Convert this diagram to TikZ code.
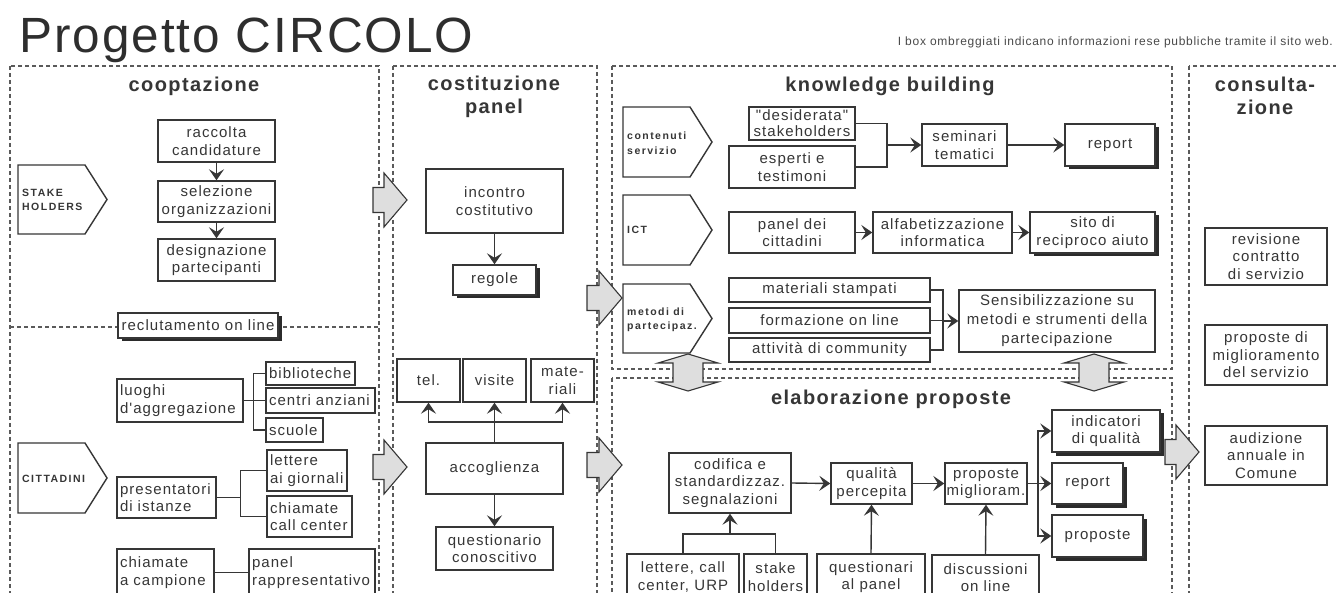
\documentclass[tikz,border=0pt]{standalone}
\usepackage{fontspec}
\setmainfont{Liberation Sans}
\newfontfamily\boxfont[LetterSpace=7]{Liberation Sans}
\newfontfamily\headfont[LetterSpace=7]{Liberation Sans}
\newfontfamily\tagfont[LetterSpace=14]{Liberation Sans}
\newfontfamily\titlefont[LetterSpace=4]{Liberation Sans}
\newfontfamily\notefont[LetterSpace=6]{Liberation Sans}
\usetikzlibrary{arrows.meta,shadows}
\definecolor{ink}{HTML}{363636}
\definecolor{frame}{HTML}{5A5A5A}
\definecolor{blockfill}{HTML}{DEDEDE}

\tikzset{
  box/.style={draw=ink, line width=1.4pt, fill=white, text=ink,
    font=\boxfont\fontsize{15}{17.5}\selectfont, align=center, inner sep=0pt},
  lbox/.style={box, align=left, inner xsep=3pt},
  sbox/.style={box, drop shadow={shadow xshift=3.5pt, shadow yshift=-3.5pt,
    opacity=1, fill=ink!80!black}},
  con/.style={draw=ink, line width=1.4pt},
  arr/.style={con, -{Stealth[length=11pt,width=15pt,inset=4.5pt]}},
  panel/.style={draw=frame, line width=1.1pt, dash pattern=on 4pt off 3pt},
  tag/.style={draw=ink, line width=1.4pt, fill=white},
  taglabel/.style={text=ink, font=\tagfont\bfseries\fontsize{10.5}{14.5}\selectfont,
    align=left, anchor=west, inner sep=0pt},
  head/.style={text=ink, font=\headfont\bfseries\fontsize{20}{23}\selectfont,
    align=center, inner sep=0pt},
  garrow/.style={draw=ink, line width=1.1pt, fill=blockfill},
}

% box given by its corners: \bx[style]{name}{x1}{y1}{x2}{y2}{text}
\newcommand\bx[7][box]{\node[#1, minimum width={#5-#3}, minimum height={#6-#4}]
  (#2) at ({(#3+#5)/2},{(#4+#6)/2}) {#7};}
% wide grey arrow pointing right: tail x, tip x, centre y
\newcommand\garrowR[3]{\draw[garrow] (#1,#3-12.5) -- (#2-23,#3-12.5) -- (#2-23,#3-27)
  -- (#2,#3) -- (#2-23,#3+27) -- (#2-23,#3+12.5) -- (#1,#3+12.5) -- cycle;}
% wide grey two-headed vertical arrow: centre x, top tip y, bottom tip y
\newcommand\garrowV[3]{\draw[garrow] (#1-15,#2+9) -- (#1-30,#2+9) -- (#1,#2)
  -- (#1+30,#2+9) -- (#1+15,#2+9) -- (#1+15,#3-9) -- (#1+30,#3-9) -- (#1,#3)
  -- (#1-30,#3-9) -- (#1-15,#3-9) -- cycle;}

\begin{document}
\hyphenpenalty=10000
\exhyphenpenalty=10000
\begin{tikzpicture}[x=1pt,y=-1pt]
\useasboundingbox (0,0) rectangle (1336,593);
\fill[white] (0,0) rectangle (1336,593);
\clip (0,0) rectangle (1336,593);

% title and note
\node[anchor=base west, inner sep=0pt, text=ink!85!black,
  font=\titlefont\fontsize{49.5}{52}\selectfont] (title) at (19,53) {Progetto CIRCOLO};
\node[anchor=base east, inner sep=0pt, text=ink!90,
  font=\notefont\fontsize{12}{14}\selectfont] (note) at (1333,46)
  {I box ombreggiati indicano informazioni rese pubbliche tramite il sito web.};

% dashed panels
\draw[panel] (10,66) rectangle (379,620);
\draw[panel] (10,327) -- (379,327);
\draw[panel] (393,66) rectangle (597,620);
\draw[panel] (612,66) rectangle (1172,369);
\draw[panel] (612,378) rectangle (1172,620);
\draw[panel] (1189,66) rectangle (1360,620);

% panel headings
\node[head] (hcoop) at (194,86) {cooptazione};
\node[head] (hcost) at (494,96.5) {costituzione\\panel};
\node[head] (hkb) at (890,86) {knowledge building};
\node[head] (hel) at (891,399) {elaborazione proposte};
\node[head] (hcons) at (1265,95.5) {consulta-\\zione};

% grey flow arrows between panels
\garrowR{373}{407}{200}
\garrowR{373}{407}{467}
\garrowR{587}{622}{298}
\garrowR{587}{622}{465}
\garrowR{1165}{1199}{452}
\garrowV{688}{354}{391}
\garrowV{1094}{354}{391}

% pointed tags
\draw[tag] (18,165) -- (85,165) -- (107,199.5) -- (85,234) -- (18,234) -- cycle;
\node[taglabel] (tstake) at (22,200) {STAKE\\HOLDERS};
\draw[tag] (18,443) -- (85,443) -- (107,478) -- (85,513) -- (18,513) -- cycle;
\node[taglabel] (tcitt) at (22,479) {CITTADINI};
\draw[tag] (623,107) -- (690,107) -- (712,142) -- (690,177) -- (623,177) -- cycle;
\node[taglabel] (tcont) at (627,143) {contenuti\\servizio};
\draw[tag] (623,195) -- (690,195) -- (712,230) -- (690,265) -- (623,265) -- cycle;
\node[taglabel] (tict) at (627,230) {ICT};
\draw[tag] (623,284) -- (690,284) -- (712,318.5) -- (690,353) -- (623,353) -- cycle;
\node[taglabel] (tmet) at (627,320) {metodi di\\partecipaz.};

% cooptazione
\bx{rac}{158}{120}{275}{162}{raccolta\\candidature}
\bx{sel}{158}{181}{275}{222}{selezione\\organizzazioni}
\bx{des}{158}{239}{275}{281}{designazione\\partecipanti}
\draw[arr] (rac.south) -- (sel.north);
\draw[arr] (sel.south) -- (des.north);
\bx[sbox]{recl}{118}{313}{278}{338}{reclutamento on line}

\bx[lbox,text width=120pt]{luo}{117}{379}{243}{422}{luoghi\\d'aggregazione}
\bx[lbox,text width=83pt]{bib}{266}{362}{355}{385}{biblioteche}
\bx[lbox,text width=103pt]{cen}{266}{388}{375}{413}{centri anziani}
\bx[lbox,text width=51pt]{scu}{266}{418}{323}{442}{scuole}
\draw[con] (bib.west) -- ++(-12,0) |- (scu.west);
\draw[con] (luo.east) -- (cen.west);

\bx[lbox,text width=93pt]{pre}{117}{477}{216}{518}{presentatori\\di istanze}
\bx[lbox,text width=74pt]{let}{267}{450}{347}{491}{lettere\\ai giornali}
\bx[lbox,text width=79pt]{chi}{267}{496}{352}{537}{chiamate\\call center}
\coordinate (pj) at (241,497.5);
\draw[con] (let.west) -- ++(-26,0) |- (chi.west);
\draw[con] (pre.east) -- (pj);

\bx[lbox,text width=91pt]{cam}{117}{549}{214}{596}{chiamate\\a campione}
\bx[lbox,text width=120pt]{pnr}{249}{549}{375}{596}{panel\\rappresentativo}
\draw[con] (cam.east) -- (pnr.west);

% costituzione panel
\bx{inc}{426}{169}{563}{233}{incontro\\costitutivo}
\bx[sbox]{reg}{453}{265}{536}{295}{regole}
\draw[arr] (inc.south) -- (reg.north);
\bx{tel}{397}{359}{460}{402}{tel.}
\bx{vis}{463}{359}{526}{402}{visite}
\bx{mat}{531}{359}{594}{402}{mate-\\riali}
\bx{acc}{426}{443}{563}{494}{accoglienza}
\bx{qst}{436}{527}{553}{570}{questionario\\conoscitivo}
\coordinate (aj) at (494.5,422);
\draw[con] (acc.north) -- (aj);
\draw[arr] (aj) -- (vis.south);
\draw[arr] (aj) -| (tel.south);
\draw[arr] (aj) -| (mat.south);
\draw[arr] (acc.south) -- (qst.north);

% knowledge building
\bx[box,font=\boxfont\fontsize{15}{16}\selectfont]{desi}{749}{107}{855}{140}{"desiderata"\\stakeholders}
\bx{esp}{729}{146}{855}{188}{esperti e\\testimoni}
\bx{sem}{922}{124}{1007}{166}{seminari\\tematici}
\bx[sbox]{rep1}{1065}{124}{1155}{166}{report}
\coordinate (kj) at (887,145);
\draw[con] (desi.east) -| (kj) |- (esp.east);
\draw[arr] (kj) -- (sem.west);
\draw[arr] (sem.east) -- (rep1.west);

\bx{pdc}{729}{212}{855}{253}{panel dei\\cittadini}
\bx{alf}{873}{212}{1012}{253}{alfabetizzazione\\informatica}
\bx[sbox]{sit}{1030}{212}{1155}{253}{sito di\\reciproco aiuto}
\draw[arr] (pdc.east) -- (alf.west);
\draw[arr] (alf.east) -- (sit.west);

\bx{mst}{729}{278}{930}{302}{materiali stampati}
\bx{fol}{729}{308}{930}{333}{formazione on line}
\bx{com}{729}{338}{930}{362}{attività di community}
\bx[box,font=\boxfont\fontsize{15}{19}\selectfont]{sens}{959}{290}{1155}{352}{Sensibilizzazione su\\metodi e strumenti della\\partecipazione}
\coordinate (mj) at (943,321);
\draw[con] (mst.east) -| (mj) |- (com.east);
\draw[con] (fol.east) -- (fol.east -| mj);
\draw[arr] (mj) -- (sens.west);

% elaborazione proposte
\bx{cod}{669}{453}{791}{513}{codifica e\\standardizzaz.\\segnalazioni}
\bx{qua}{831}{463}{912}{504}{qualità\\percepita}
\bx{pmi}{945}{463}{1027}{504}{proposte\\miglioram.}
\bx[sbox]{ind}{1052}{410}{1160}{452}{indicatori\\di qualità}
\bx[sbox]{rep2}{1052}{463}{1123}{504}{report}
\bx[sbox]{prp}{1052}{515}{1143}{557}{proposte}
\bx{lcc}{627}{554}{739}{600}{lettere, call\\center, URP}
\bx{stk}{744}{554}{807}{600}{stake\\holders}
\bx{qap}{817}{554}{925}{600}{questionari\\al panel}
\bx{dol}{932}{555}{1039}{600}{discussioni\\on line}
\draw[arr] (cod.east) -- (qua.west);
\draw[arr] (qua.east) -- (pmi.west);
\coordinate (ej) at (730,534);
\draw[con] (lcc.north) |- (ej) -| (stk.north);
\draw[arr] (ej) -- (cod.south);
\draw[arr] (qap.north) -- (qua.south);
\draw[arr] (dol.north) -- (pmi.south);
\coordinate (pj2) at (1038,483.5);
\draw[con] (pmi.east) -- (pj2);
\draw[arr] (pj2) |- (ind.west);
\draw[arr] (pj2) -- (rep2.west);
\draw[arr] (pj2) |- (prp.west);

% consultazione
\bx{rev}{1205}{228}{1327}{285}{revisione\\contratto\\di servizio}
\bx{pms}{1205}{325}{1327}{385}{proposte di\\miglioramento\\del servizio}
\bx{aud}{1205}{426}{1327}{485}{audizione\\annuale in\\Comune}
\end{tikzpicture}
\end{document}
